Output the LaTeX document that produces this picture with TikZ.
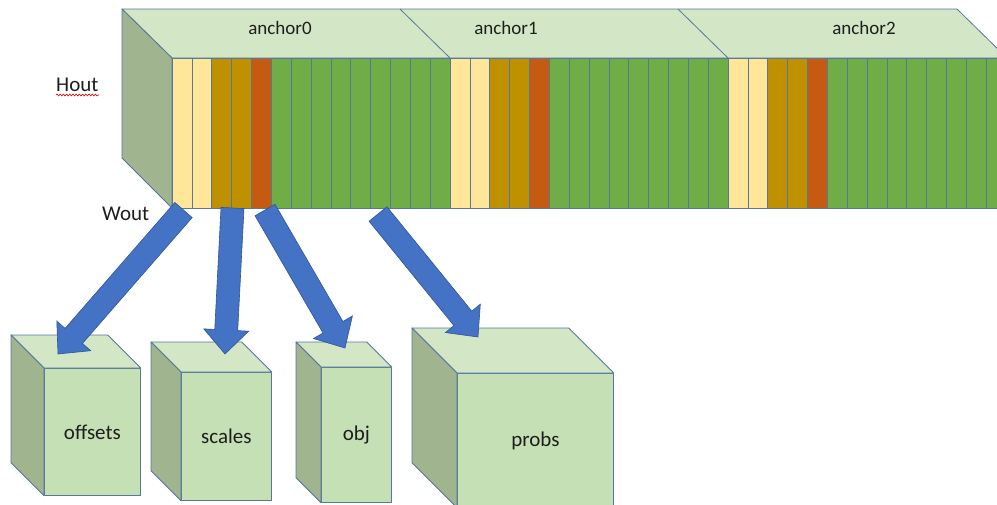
\documentclass[tikz,border=0pt]{standalone}
\usepackage{fontspec}
\setmainfont{Carlito}
\usetikzlibrary{calc,decorations.pathmorphing}

\definecolor{edge}{HTML}{56789A}
\definecolor{facefront}{HTML}{C5E0B4}
\definecolor{facetop}{HTML}{D3E7C6}
\definecolor{faceside}{HTML}{A0B48F}
\definecolor{stripY}{HTML}{FFE699}
\definecolor{stripG}{HTML}{BF9000}
\definecolor{stripO}{HTML}{C55A11}
\definecolor{stripN}{HTML}{70AD47}
\definecolor{arrowfill}{HTML}{4472C4}
\definecolor{arrowedge}{HTML}{2F5597}
\definecolor{ink}{HTML}{1E1E1E}

% shaft half width and head half width / length of the block arrows
\newcommand{\shafthalf}{11.5pt}
\newcommand{\headhalf}{22.5pt}
\newcommand{\headlen}{24pt}

% thick block arrow from #1 (tail centre) to #2 (tip)
\newcommand{\blockarrow}[2]{%
  \coordinate (ahead) at ($(#2)!\headlen!(#1)$);
  \filldraw[blockarrowstyle]
    ($(#1)!\shafthalf!90:(#2)$) -- ($(ahead)!\shafthalf!90:(#2)$) --
    ($(ahead)!\headhalf!90:(#2)$) -- (#2) --
    ($(ahead)!\headhalf!-90:(#2)$) -- ($(ahead)!\shafthalf!-90:(#2)$) --
    ($(#1)!\shafthalf!-90:(#2)$) -- cycle;}

% top and left faces of a box whose front face is node #1, depth #2
\newcommand{\boxfaces}[2]{%
  \filldraw[face, fill=facetop] (#1.north west) -- ++(-#2,-#2) --
    ($(#1.north east)+(-#2,-#2)$) -- (#1.north east) -- cycle;
  \filldraw[face, fill=faceside] (#1.north west) -- ++(-#2,-#2) --
    ($(#1.south west)+(-#2,-#2)$) -- (#1.south west) -- cycle;}

\tikzset{
  face/.style={draw=edge, line width=0.8pt, line join=round},
  frontface/.style={face, fill=facefront, anchor=north west, inner sep=0pt,
    font=\fontsize{21}{25}\selectfont, text=ink},
  strip/.style={draw=edge, line width=0.7pt},
  lab/.style={inner sep=0pt, text=ink, font=\fontsize{21}{25}\selectfont},
  anchorlab/.style={inner sep=0pt, text=ink, font=\fontsize{19}{23}\selectfont, anchor=base},
  blockarrowstyle/.style={fill=arrowfill, draw=arrowedge, line width=0.6pt, line join=miter},
}

\begin{document}
\begin{tikzpicture}[x=1pt, y=-1pt]
  \useasboundingbox (0,0) rectangle (997,504);
  \clip (0,0) rectangle (997,504);
  \fill[white] (0,0) rectangle (997,504);

  % ---- the long output tensor ----
  \filldraw[face, fill=facetop] (122,9) -- (957,9) -- (1007,58) -- (172,58) -- cycle;
  \draw[face] (400,9) -- (450,58);
  \draw[face] (678,9) -- (728,58);
  \filldraw[face, fill=faceside] (122,9) -- (172,58) -- (172,208) -- (122,158) -- cycle;
  \node[face, fill=facefront, anchor=north west, inner sep=0pt,
        minimum width=835pt, minimum height=150pt] (grid) at (172,58) {};

  \foreach \x in {172,450,728}{
    \foreach \c [count=\i from 0] in
      {stripY,stripY,stripG,stripG,stripO,stripN,stripN,stripN,stripN,stripN,stripN,stripN,stripN,stripN}{
      \filldraw[strip, fill=\c] ({\x+\i*19.857},58) rectangle ++(19.857,150);
    }
  }

  \node[anchorlab] (a0) at (280,34) {anchor0};
  \node[anchorlab] (a1) at (506,34) {anchor1};
  \node[anchorlab] (a2) at (864,34) {anchor2};

  \node[lab, anchor=base west] (hout) at (56,91) {Hout};
  \draw[red!85!black, line width=0.6pt, decorate,
        decoration={snake, amplitude=0.9pt, segment length=3.2pt}]
        (hout.base west) ++(0,4) -- ++(43,0);
  \node[lab, anchor=base west] (wout) at (102,220) {Wout};

  % ---- the four output boxes ----
  \node[frontface, minimum width=96pt, minimum height=127pt] (offsets) at (44,368) {offsets};
  \boxfaces{offsets}{33}
  \node[frontface, minimum width=90pt, minimum height=128pt] (scales) at (181,372) {scales};
  \boxfaces{scales}{30}
  \node[frontface, minimum width=70pt, minimum height=135pt] (obj) at (321,367) {obj};
  \boxfaces{obj}{25}
  \node[frontface, minimum width=156pt, minimum height=134pt] (probs) at (457,373) {probs};
  \boxfaces{probs}{45}

  % ---- arrows from the channel groups to the boxes ----
  \coordinate (t-off) at (183.5,210);
  \coordinate (t-sc)  at (232.5,208);
  \coordinate (t-obj) at (265,210);
  \coordinate (t-pr)  at (378,214);
  \coordinate (in-off) at (58,354);
  \coordinate (in-sc)  at (225,354);
  \coordinate (in-obj) at (345,348);
  \coordinate (in-pr)  at (478,337);

  \blockarrow{t-off}{in-off}
  \blockarrow{t-sc}{in-sc}
  \blockarrow{t-obj}{in-obj}
  \blockarrow{t-pr}{in-pr}
\end{tikzpicture}
\end{document}
